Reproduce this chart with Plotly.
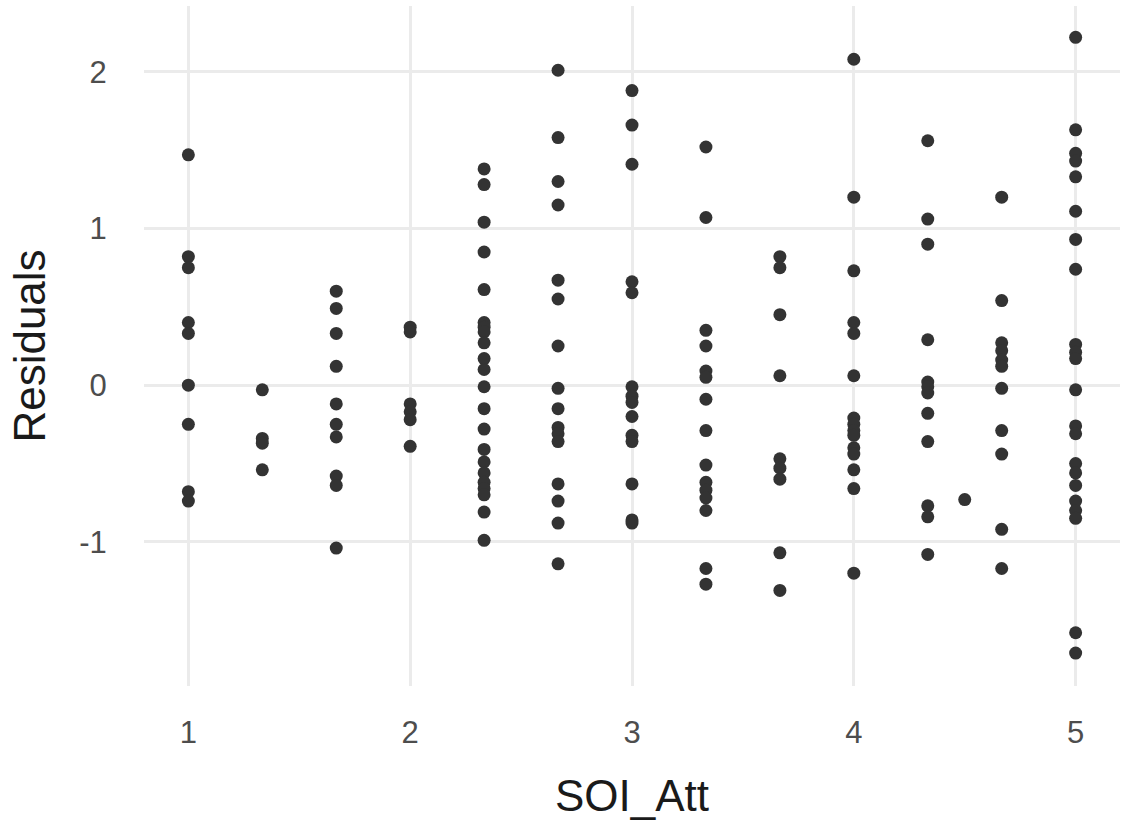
import plotly.graph_objects as go

# Residuals grouped by SOI_Att level
soi_levels = [1.0, 1.3333, 1.6667, 2.0, 2.3333, 2.6667, 3.0, 3.3333, 3.6667,
              4.0, 4.3333, 4.5, 4.6667, 5.0]

resid_by_level = [
    [1.47, 0.82, 0.75, 0.40, 0.33, 0.00, -0.25, -0.68, -0.74],
    [-0.03, -0.34, -0.37, -0.54],
    [0.60, 0.49, 0.33, 0.12, -0.12, -0.25, -0.33, -0.58, -0.64, -1.04],
    [0.37, 0.34, -0.12, -0.17, -0.22, -0.39],
    [1.38, 1.28, 1.04, 0.85, 0.61, 0.40, 0.37, 0.34, 0.27, 0.17, 0.10, -0.01,
     -0.15, -0.28, -0.41, -0.49, -0.56, -0.62, -0.66, -0.70, -0.81, -0.99],
    [2.01, 1.58, 1.30, 1.15, 0.67, 0.55, 0.25, -0.02, -0.15, -0.27, -0.31,
     -0.36, -0.63, -0.74, -0.88, -1.14],
    [1.88, 1.66, 1.41, 0.66, 0.59, -0.01, -0.07, -0.11, -0.20, -0.32, -0.36,
     -0.63, -0.86, -0.88],
    [1.52, 1.07, 0.35, 0.25, 0.09, 0.05, -0.09, -0.29, -0.51, -0.62, -0.67,
     -0.72, -0.80, -1.17, -1.27],
    [0.82, 0.75, 0.45, 0.06, -0.47, -0.53, -0.60, -1.07, -1.31],
    [2.08, 1.20, 0.73, 0.40, 0.33, 0.06, -0.21, -0.25, -0.29, -0.32, -0.40,
     -0.44, -0.54, -0.66, -1.20],
    [1.56, 1.06, 0.90, 0.29, 0.02, -0.01, -0.05, -0.18, -0.36, -0.77, -0.84,
     -1.08],
    [-0.73],
    [1.20, 0.54, 0.27, 0.22, 0.16, 0.12, -0.02, -0.29, -0.44, -0.92, -1.17],
    [2.22, 1.63, 1.48, 1.43, 1.33, 1.11, 0.93, 0.74, 0.26, 0.21, 0.17, -0.03,
     -0.26, -0.31, -0.50, -0.56, -0.64, -0.74, -0.80, -0.85, -1.58, -1.71],
]

x_tick_vals = [1, 2, 3, 4, 5]
y_tick_vals = [-1, 0, 1, 2]
y_tick_text = ["-1", "0", "1", "2"]

xs, ys = [], []
for lvl, vals in zip(soi_levels, resid_by_level):
    xs.extend([lvl] * len(vals))
    ys.extend(vals)

fig = go.Figure(
    go.Scatter(
        x=xs, y=ys, mode="markers",
        marker=dict(size=13, color="#333333", line=dict(width=0)),
        hoverinfo="skip",
    )
)

grid = "#EBEBEB"
tick_font = dict(family="Liberation Sans, Arial, sans-serif", size=31, color="#4D4D4D")
title_font = dict(family="Liberation Sans, Arial, sans-serif", size=44, color="#1A1A1A")

fig.update_layout(
    width=1126, height=832,
    margin=dict(l=144, r=6, t=6, b=146),
    paper_bgcolor="white", plot_bgcolor="white",
    showlegend=False,
    xaxis=dict(
        range=[0.8, 5.2], tickvals=x_tick_vals, ticktext=[str(v) for v in x_tick_vals],
        showgrid=True, gridcolor=grid, gridwidth=2.5, zeroline=False, showline=False,
        ticks="outside", ticklen=19, tickcolor="rgba(0,0,0,0)",
        tickfont=tick_font,
        title=dict(text="SOI_Att", font=title_font, standoff=30),
    ),
    yaxis=dict(
        range=[-1.92, 2.42], tickvals=y_tick_vals, ticktext=y_tick_text,
        showgrid=True, gridcolor=grid, gridwidth=2.5, zeroline=False, showline=False,
        ticks="outside", ticklen=30, tickcolor="rgba(0,0,0,0)",
        tickfont=tick_font,
        title=dict(text="Residuals", font=title_font, standoff=19),
    ),
)

fig.write_html("out.html")
